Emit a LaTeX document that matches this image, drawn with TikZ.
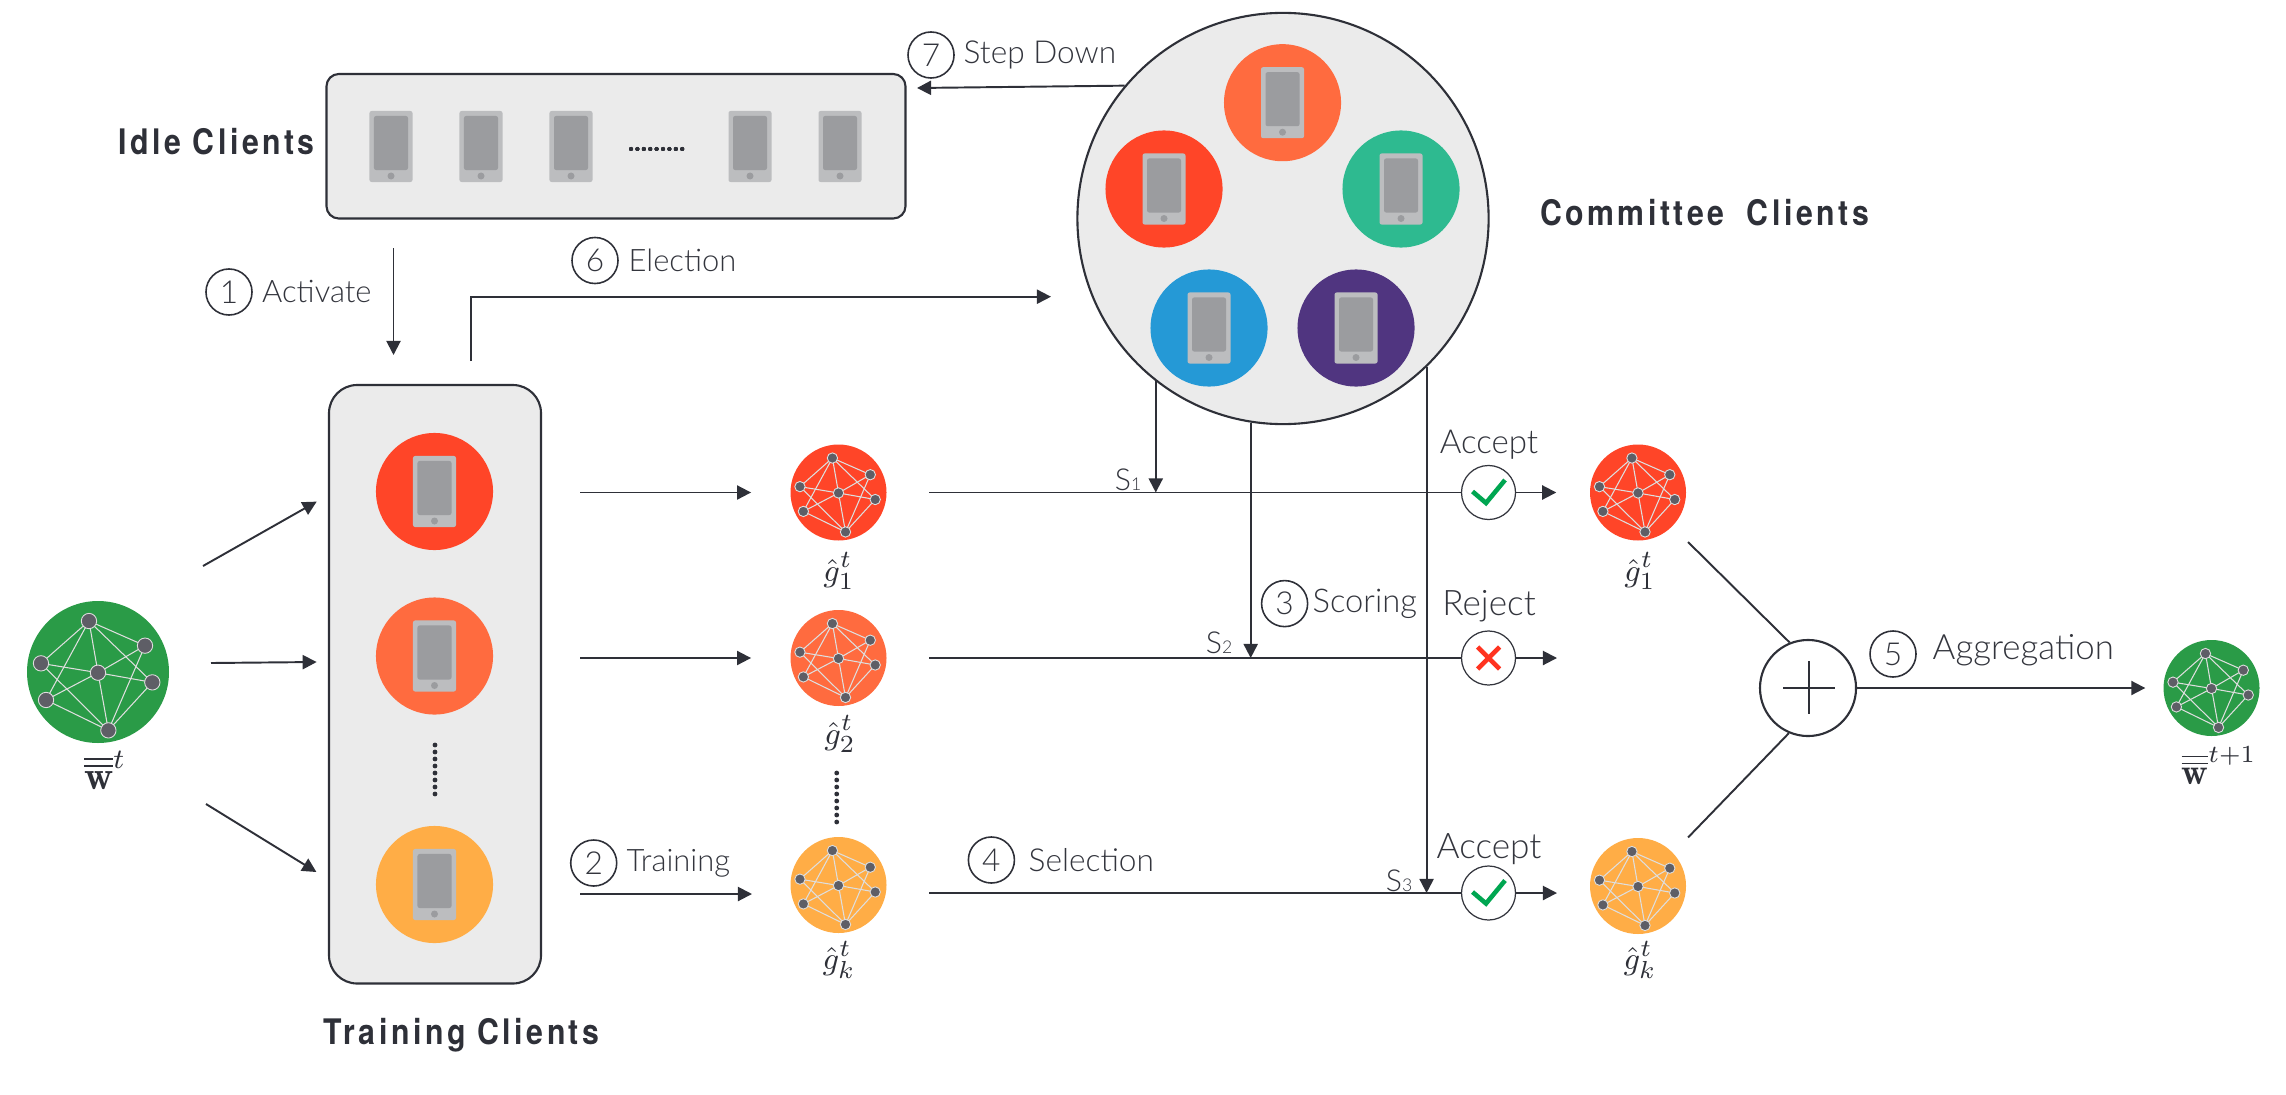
\documentclass[tikz,border=0pt]{standalone}
\usepackage{fontspec}
\usepackage{tikz}
\usetikzlibrary{arrows.meta}
\usetikzlibrary{positioning}
\usetikzlibrary{calc}

\newfontfamily\labelfont[UprightFont=* Light]{Lato}
\newfontfamily\headfont[FakeStretch=0.86,LetterSpace=10,UprightFont=* Bold]{TeX Gyre Heros}

\definecolor{inkdark}{HTML}{2E3038}
\definecolor{inklight}{HTML}{33353D}
\definecolor{panelgray}{HTML}{EBEBEB}
\definecolor{phoneback}{HTML}{BCBDBF}
\definecolor{phonefront}{HTML}{9B9C9F}
\definecolor{netnode}{HTML}{5E5E66}
\definecolor{netedge}{HTML}{DEDEDE}
\definecolor{redc}{HTML}{FF4528}
\definecolor{orangec}{HTML}{FF6B3F}
\definecolor{yellowc}{HTML}{FFAD46}
\definecolor{greenc}{HTML}{2A9B47}
\definecolor{tealc}{HTML}{2EBA90}
\definecolor{bluec}{HTML}{2599D6}
\definecolor{purplec}{HTML}{503580}
\definecolor{okgreen}{HTML}{00A651}
\definecolor{badred}{HTML}{FF3320}

\tikzset{
  flow/.style={draw=inkdark, line width=0.55pt, -{Triangle[length=4pt,width=4pt]}},
  bareline/.style={draw=inkdark, line width=0.55pt},
  panel/.style={draw=inkdark, fill=panelgray, line width=0.6pt},
  disc/.style={circle, inner sep=0pt, draw=none},
  phonebody/.style={rectangle, rounded corners=0.6pt, fill=phoneback, inner sep=0pt, minimum width=0.43cm, minimum height=0.71cm},
  phonescreen/.style={rectangle, rounded corners=0.6pt, fill=phonefront, inner sep=0pt, minimum width=0.34cm, minimum height=0.54cm},
  numring/.style={circle, draw=inkdark, line width=0.45pt, inner sep=0pt, minimum size=0.46cm, font=\labelfont\fontsize{9}{9}\selectfont, text=inklight},
  steplabel/.style={anchor=west, inner sep=0pt, font=\labelfont\fontsize{9}{9}\selectfont, text=inklight},
  scorelabel/.style={inner sep=0pt, font=\labelfont\fontsize{8.6}{9}\selectfont, text=inklight},
  headlabel/.style={inner sep=0pt, font=\headfont\fontsize{10}{10}\selectfont, text=inkdark},
  verdict/.style={circle, draw=inklight, fill=white, line width=0.35pt, inner sep=0pt, minimum size=0.54cm},
  mathlabel/.style={inner sep=0pt, text=inkdark, font=\fontsize{9.5}{11}\selectfont},
}

% phone: name, x, y
\newcommand{\phoneicon}[3]{
  \node[phonebody] (#1) at (#2,#3) {};
  \node[phonescreen] (#1scr) at (#2,#3-3.5) {};
  \fill[phonefront] (#2,#3+29.5) circle (3.5);
}

% coloured client: name, x, y, colour
\newcommand{\clientdisc}[4]{
  \node[disc, fill=#4, minimum size=1.17cm] (#1) at (#2,#3) {};
  \phoneicon{#1ph}{#2}{#3}
}

% small network on a disc: name, x, y, colour, radius
\newcommand{\netdisc}[5]{
  \node[disc, fill=#4, minimum size={2*#5*0.01cm}] (#1) at (#2,#3) {};
  \coordinate (#1a) at (#2-0.127*#5,#3-0.718*#5);
  \coordinate (#1b) at (#2+0.662*#5,#3-0.371*#5);
  \coordinate (#1c) at (#2-0.803*#5,#3-0.122*#5);
  \coordinate (#1d) at (#2,#3+0.01*#5);
  \coordinate (#1e) at (#2+0.765*#5,#3+0.146*#5);
  \coordinate (#1f) at (#2-0.732*#5,#3+0.394*#5);
  \coordinate (#1g) at (#2+0.146*#5,#3+0.822*#5);
  \foreach \u/\v in {a/b,a/c,a/d,a/e,a/f,b/d,b/g,c/d,c/g,d/e,d/f,d/g,e/g,f/g}
    \draw[netedge, line width=0.3pt] (#1\u) -- (#1\v);
  \foreach \u in {a,b,c,d,e,f,g}
    \draw[netedge, fill=netnode, line width=0.25pt] (#1\u) circle (0.108*#5);
}

\begin{document}
\begin{tikzpicture}[x=0.01cm, y=-0.01cm]

\useasboundingbox (0,0) rectangle (2286,1094);

% idle clients
\draw[panel, rounded corners=3.5pt] (326.5,74) rectangle (905.5,218.5);
\node[headlabel] (idlehead) at (216.5,141.5) {Idle Clients};
\foreach \n/\x in {a/391,b/481,c/571,d/750,e/840}
  \phoneicon{idle\n}{\x}{146.5}
\foreach \i in {0,...,8}
  \fill[inkdark] (631+\i*6.4,149) circle (2);

% training clients
\draw[panel, rounded corners=8pt] (329,385) rectangle (541,983.5);
\node[headlabel] (trainhead) at (461.5,1035.5) {Training Clients};
\clientdisc{tra}{434.5}{491.5}{redc}
\clientdisc{trb}{434.5}{656}{orangec}
\clientdisc{trc}{434.5}{884.5}{yellowc}
\foreach \i in {0,...,7}
  \fill[inkdark] (435,745+\i*7) circle (2.4);

% committee clients
\node[circle, draw=inkdark, fill=panelgray, line width=0.6pt, inner sep=0pt, minimum size=4.11cm] (committee) at (1283,218.5) {};
\node[headlabel] (commhead) at (1704.5,213) {Committee\hspace{0.3em} Clients};
\clientdisc{coa}{1282.5}{102.7}{orangec}
\clientdisc{cob}{1164}{189}{redc}
\clientdisc{coc}{1401}{189}{tealc}
\clientdisc{cod}{1209}{328}{bluec}
\clientdisc{coe}{1356}{328}{purplec}

% models
\netdisc{wold}{98}{672}{greenc}{71}
\netdisc{ga}{838.5}{492.5}{redc}{48}
\netdisc{gb}{838.5}{658}{orangec}{48}
\netdisc{gk}{838.5}{885}{yellowc}{48}
\netdisc{ra}{1638}{492.5}{redc}{48}
\netdisc{rk}{1638}{886}{yellowc}{48}
\netdisc{wnew}{2211.5}{688}{greenc}{48}
\foreach \i in {0,...,7}
  \fill[inkdark] (836.7,773+\i*7) circle (2.4);

\node[mathlabel, font=\fontsize{11.5}{13}\selectfont] (woldlab) at (105,770) {$\overline{\overline{\mathbf{w}}}^{t}$};
\node[mathlabel, font=\fontsize{10.5}{12}\selectfont] (wnewlab) at (2219,766) {$\overline{\overline{\mathbf{w}}}^{t+1}$};
\node[mathlabel] (galab) at (839,571) {$\hat{g}_{1}^{t}$};
\node[mathlabel] (gblab) at (840,734) {$\hat{g}_{2}^{t}$};
\node[mathlabel] (gklab) at (839,960) {$\hat{g}_{k}^{t}$};
\node[mathlabel] (ralab) at (1640,571) {$\hat{g}_{1}^{t}$};
\node[mathlabel] (rklab) at (1640,960) {$\hat{g}_{k}^{t}$};

% verdicts
\node[verdict] (va) at (1488.5,492.5) {};
\node[verdict] (vb) at (1488.5,658) {};
\node[verdict] (vc) at (1488.5,893) {};
\draw[okgreen, line width=1.3pt] (1472.5,491.5) -- (1486,503) -- (1505,480);
\draw[okgreen, line width=1.3pt] (1472.5,892) -- (1486,903.5) -- (1505,880.5);
\draw[badred, line width=1.3pt] (1477.5,647) -- (1499.5,669) (1499.5,647) -- (1477.5,669);
\node[scorelabel, font=\labelfont\fontsize{9.4}{10}\selectfont] (acca) at (1489,445) {Accept};
\node[scorelabel, font=\labelfont\fontsize{10}{10}\selectfont] (rejb) at (1489,606) {Reject};
\node[scorelabel, font=\labelfont\fontsize{10}{10}\selectfont] (accc) at (1489,849) {Accept};

% plus
\node[circle, draw=inkdark, fill=white, line width=0.6pt, inner sep=0pt, minimum size=0.96cm] (plus) at (1808,688) {};
\draw[inkdark, line width=0.8pt] (1783,688) -- (1835,688);
\draw[inkdark, line width=0.6pt] (1809,661) -- (1809,714);

% numbered steps
\node[numring] (numa) at (229,292) {1};
\node[steplabel, font=\labelfont\fontsize{8.8}{9}\selectfont] (laba) at (261.5,291) {Activate};
\node[numring] (numb) at (593.7,863) {2};
\node[steplabel, font=\labelfont\fontsize{8.8}{9}\selectfont] (labb) at (626,863) {Training};
\node[numring] (numc) at (1284.6,603.6) {3};
\node[steplabel, font=\labelfont\fontsize{9.3}{9}\selectfont] (labc) at (1312,603.6) {Scoring};
\node[numring] (numd) at (991.4,860) {4};
\node[steplabel] (labd) at (1028,860) {Selection};
\node[numring] (nume) at (1893,654) {5};
\node[steplabel, font=\labelfont\fontsize{9.9}{10}\selectfont] (labe) at (1932,650) {Aggregation};
\node[numring] (numf) at (595,260.5) {6};
\node[steplabel, font=\labelfont\fontsize{8.8}{9}\selectfont] (labf) at (628,260.5) {Election};
\node[numring] (numg) at (931,55) {7};
\node[steplabel] (labg) at (963,55) {Step Down};

\node[scorelabel] (sa) at (1128,480) {S{\fontsize{5}{5}\selectfont 1}};
\node[scorelabel] (sb) at (1219,643) {S{\fontsize{5}{5}\selectfont 2}};
\node[scorelabel] (sc) at (1399,881) {S{\fontsize{5}{5}\selectfont 3}};

% free ends
\coordinate (actfrom) at (393.5,248);
\coordinate (actto) at (393.5,355);
\coordinate (elfrom) at (470.7,361);
\coordinate (elbend) at (470.7,296.7);
\coordinate (elto) at (1051,296.7);
\coordinate (wtopfrom) at (203,566);
\coordinate (wtopto) at (316.7,501.6);
\coordinate (wmidfrom) at (211,663);
\coordinate (wmidto) at (316.7,662);
\coordinate (wlowfrom) at (206,804);
\coordinate (wlowto) at (316.4,872);
\coordinate (trainfrom) at (580,894);
\coordinate (trainto) at (752,894);
\coordinate (selfrom) at (929,893);
\coordinate (rejto) at (1557,658);
\coordinate (acckto) at (1557,893);
\coordinate (agga) at (1688,542);
\coordinate (aggb) at (1688,837.5);
\coordinate (stepto) at (917,88);

% connectors
\draw[flow] (committee.140.6) -- (stepto);
\draw[flow] (actfrom) -- (actto);
\draw[flow] (elfrom) -- (elbend) -- (elto);
\draw[flow] (wtopfrom) -- (wtopto);
\draw[flow] (wmidfrom) -- (wmidto);
\draw[flow] (wlowfrom) -- (wlowto);

\draw[flow, shorten <=0.865cm, shorten >=0.387cm] (tra.east |- ga) -- (ga);
\draw[flow, shorten <=0.865cm, shorten >=0.387cm] (trb.east |- gb) -- (gb);
\draw[flow] (trainfrom) -- (trainto);

\draw[bareline, shorten <=0.42cm] (ga) -- (va);
\draw[bareline, shorten <=0.42cm] (gb) -- (vb);
\draw[bareline] (selfrom) -- (vc);
\draw[flow, shorten >=0.33cm] (va) -- (ra);
\draw[flow] (vb) -- (rejto);
\draw[flow] (vc) -- (acckto);

\draw[flow] (committee.232.4) -- (committee.232.4 |- va);
\draw[flow] (committee.261) -- (committee.261 |- vb);
\draw[flow] (committee.314.7) -- (committee.314.7 |- vc);

\draw[bareline] (agga) -- (plus.112.4);
\draw[bareline] (aggb) -- (plus.247.6);
\draw[flow, shorten >=0.175cm] (plus) -- (wnew);

\end{tikzpicture}
\end{document}
